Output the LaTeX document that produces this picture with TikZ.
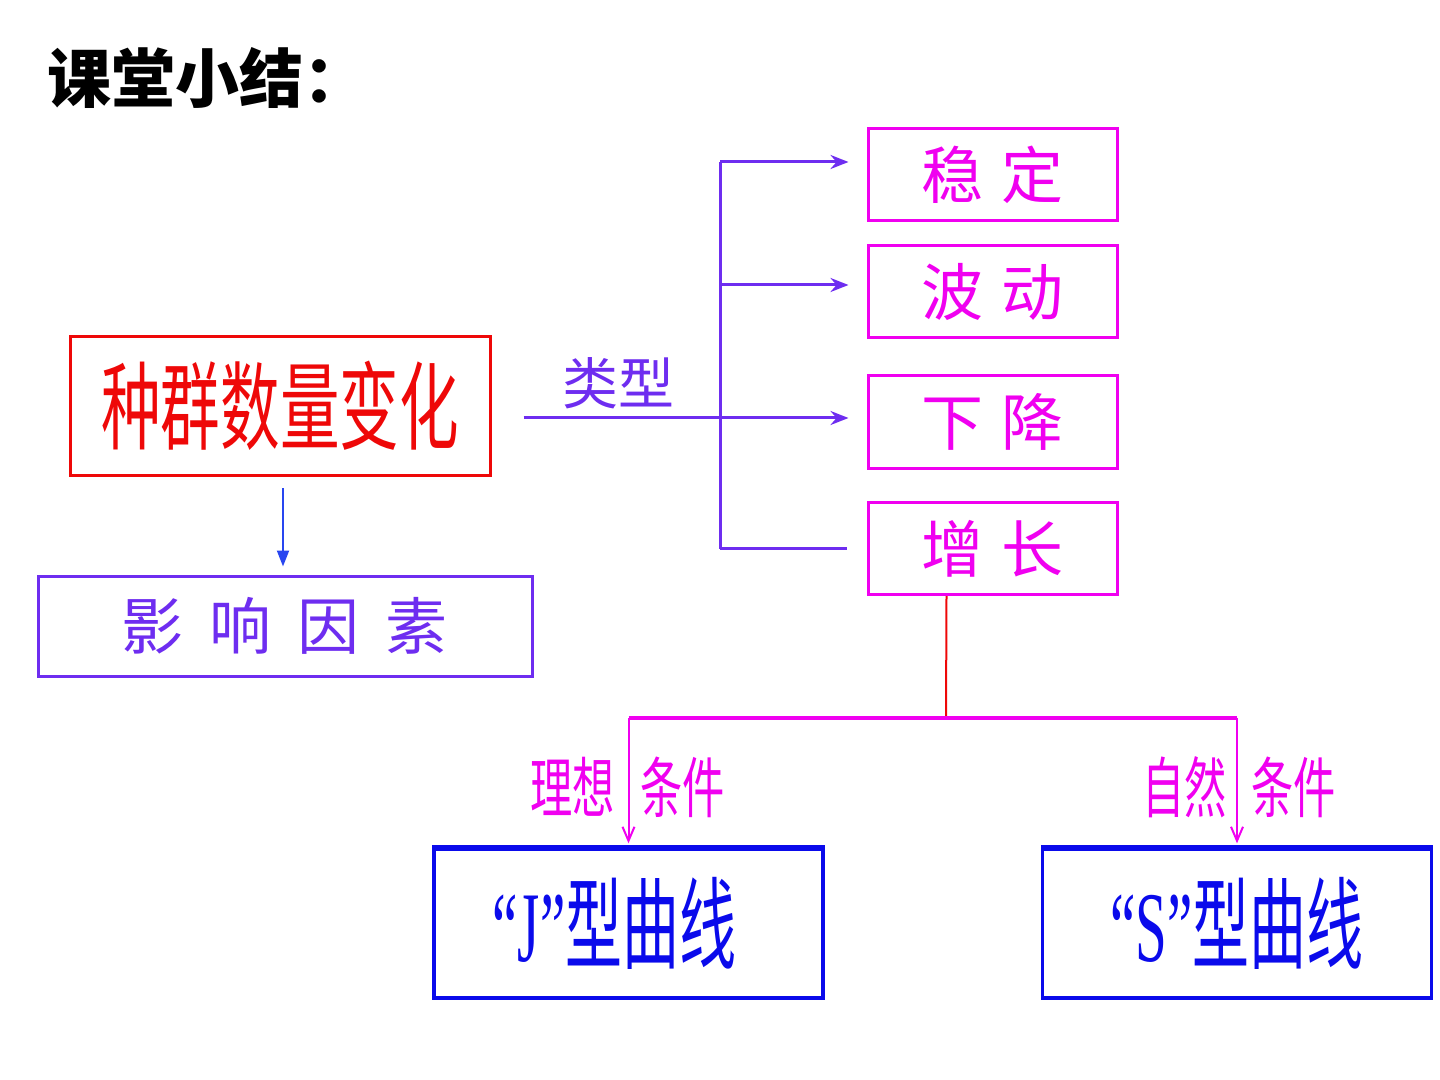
\documentclass[tikz,border=0pt]{standalone}
\usepackage{fontspec}
\setmainfont{Noto Sans CJK SC}
\newfontfamily\latinfont{Liberation Serif}
\usetikzlibrary{arrows.meta}
\definecolor{redbox}{RGB}{238,8,8}
\definecolor{violetline}{RGB}{110,45,240}
\definecolor{magentabox}{RGB}{240,0,240}
\definecolor{bluebox}{RGB}{10,10,235}
\definecolor{bluearrow}{RGB}{40,70,240}
\newcommand{\narrow}[2]{\scalebox{#1}[1]{#2}}

\begin{document}
\begin{tikzpicture}[x=0.5pt, y=-0.5pt,
  box/.style={draw, line width=1.5pt, inner sep=0pt},
  typebox/.style={box, draw=magentabox, text=magentabox, minimum width=124.5pt, minimum height=46pt, font=\fontsize{31}{33}\selectfont},
  curvebox/.style={box, draw=bluebox, text=bluebox, line width=1.7pt, minimum width=194.5pt, minimum height=74.5pt, font=\fontsize{50}{52}\selectfont},
  link/.style={line width=1.5pt, draw=violetline},
  cond/.style={text=magentabox, font=\fontsize{33}{35}\selectfont, inner sep=2pt}]
\useasboundingbox (0,0) rectangle (1440,1080);

% title
\node[anchor=west, font=\fontsize{32}{36}\selectfont\bfseries] (title) at (40,78) {课堂小结：};

% left part
\node[box, draw=redbox, text=redbox, minimum width=210pt, minimum height=69pt, font=\fontsize{48}{50}\selectfont] (change) at (280,406) {\narrow{0.62}{种群数量变化}};
\node[box, draw=violetline, text=violetline, minimum width=247pt, minimum height=50pt, font=\fontsize{31}{33}\selectfont] (factor) at (285,626) {影\hspace{0.42em}响\hspace{0.42em}因\hspace{0.42em}素};
\coordinate (drop) at (283,488);
\draw[line width=1pt, draw=bluearrow, -{Triangle[length=8pt,width=6pt]}, shorten >=4pt] (drop) -- (drop |- factor.north);

% types
\node[typebox] (stable) at (992.5,175) {稳\hspace{0.3em}定};
\node[typebox] (wave) at (992.5,292) {波\hspace{0.3em}动};
\node[typebox] (fall) at (992.5,422) {下\hspace{0.3em}降};
\node[typebox] (grow) at (992.5,548.5) {增\hspace{0.3em}长};

\coordinate (bus) at (720,418);
\draw[link, -{Stealth[length=9pt,width=7pt,inset=3pt]}, shorten <=16pt, shorten >=9pt] (change.east |- bus) -- (fall.west |- bus);
\node[text=violetline, font=\fontsize{28}{30}\selectfont] (kind) at (618,383) {类型};
\draw[link] (bus |- stable.west) ++(0,-13) -- (bus |- grow.west);
\draw[link, -{Stealth[length=9pt,width=7pt,inset=3pt]}, shorten >=9pt] ([yshift=6.5pt]bus |- stable.west) -- ([yshift=6.5pt]stable.west);
\draw[link, -{Stealth[length=9pt,width=7pt,inset=3pt]}, shorten >=9pt] ([yshift=3.5pt]bus |- wave.west) -- ([yshift=3.5pt]wave.west);
\draw[link, shorten >=10pt] (bus |- grow.west) -- (grow.west);

% curves
\node[curvebox] (jcurve) at (628.5,923.5) {\hspace*{-14pt}\narrow{0.57}{{\latinfont “J”}型曲线}};
\node[curvebox] (scurve) at (1237,923.5) {\narrow{0.57}{{\latinfont “S”}型曲线}};
\draw[line width=2.5pt, draw=bluebox] (jcurve.north west) -- (jcurve.north east);
\draw[line width=2.5pt, draw=bluebox] (scurve.north west) -- (scurve.north east);

\coordinate (fork) at (946,718);
\draw[line width=1pt, draw=redbox] ([xshift=-23pt]grow.south) -- (fork);
\draw[line width=2pt, draw=magentabox] (jcurve.north |- fork) -- (scurve.north |- fork);
\draw[line width=1pt, draw=magentabox, -{Straight Barb[length=7pt,width=6pt]}, shorten >=2pt] (jcurve.north |- fork) -- (jcurve.north);
\draw[line width=1pt, draw=magentabox, -{Straight Barb[length=7pt,width=6pt]}, shorten >=2pt] (scurve.north |- fork) -- (scurve.north);

\node[cond, anchor=east] (ideal) at (619,787) {\narrow{0.64}{理想}};
\node[cond, anchor=west] (idealc) at (636,787) {\narrow{0.64}{条件}};
\node[cond, anchor=east] (nature) at (1231,787) {\narrow{0.64}{自然}};
\node[cond, anchor=west] (naturec) at (1247,787) {\narrow{0.64}{条件}};
\end{tikzpicture}
\end{document}
